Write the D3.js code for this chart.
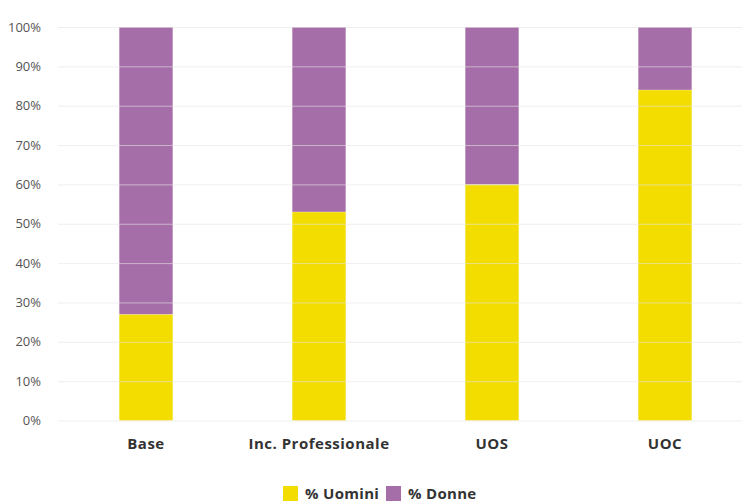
<!DOCTYPE html>
<html>
<head>
<meta charset="utf-8">
<script src="https://cdn.jsdelivr.net/npm/d3@7"></script>
<style>
    body { margin: 0; background: #fff; }
    .tick text { font-family: 'Open Sans', sans-serif; }
</style>
</head>
<body>
<div id="chart"></div>
<script>
'use strict';

// Data
const categories = ['Base', 'Inc. Professionale', 'UOS', 'UOC'];
const uomini = [27, 53, 60, 84];
const donne = [73, 47, 40, 16];
const seriesNames = ['% Uomini', '% Donne'];
const seriesColors = ['#f3dd00', '#a66ea8'];
const yTicks = [0, 10, 20, 30, 40, 50, 60, 70, 80, 90, 100];

// Configs
const svgW = 742;
const svgH = 504;
const plotLeft = 58;
const plotTop = 27;
const plotBottom = 420.5;

const svg = d3.select('#chart')
    .append('svg')
    .attr('width', svgW)
    .attr('height', svgH);

// Scales
const xScale = d3.scaleBand()
    .domain(categories)
    .range([59.5, 751.5])
    .paddingInner(0.69)
    .paddingOuter(0.345);
const yScale = d3.scaleLinear()
    .domain([0, 100])
    .range([plotBottom, plotTop]);

// Stack
const rows = categories.map((c, i) => ({cat: c, u: uomini[i], d: donne[i]}));
const stacked = d3.stack().keys(['u', 'd'])(rows);

const barsG = svg.append('g');
barsG.selectAll('.layer')
    .data(stacked)
    .join('g')
    .attr('fill', (d, i) => seriesColors[i])
    .selectAll('rect')
    .data(d => d)
    .join('rect')
    .attr('x', d => xScale(d.data.cat))
    .attr('width', xScale.bandwidth())
    .attr('y', d => yScale(d[1]))
    .attr('height', d => yScale(d[0]) - yScale(d[1]))
    .attr('stroke', 'rgba(255,255,255,0.35)')
    .attr('stroke-width', 0.6);

// Gridlines on top (light)
const yAxis = d3.axisLeft(yScale)
    .tickValues(yTicks)
    .tickFormat(d => d + '%')
    .tickSize(-(svgW - plotLeft))
    .tickPadding(17);
const yAxisG = svg.append('g')
    .attr('transform', `translate(${plotLeft},0)`)
    .call(yAxis);
yAxisG.select('.domain').remove();
yAxisG.selectAll('.tick line')
    .attr('stroke', '#e4e4e4')
    .attr('stroke-opacity', 0.6)
    .attr('stroke-width', 1);
yAxisG.selectAll('.tick text')
    .attr('fill', '#555')
    .style('font-size', '13px');

// Category labels
const xAxis = d3.axisBottom(xScale).tickSize(0).tickPadding(18);
const xAxisG = svg.append('g')
    .attr('transform', `translate(0,${plotBottom})`)
    .call(xAxis);
xAxisG.select('.domain').remove();
xAxisG.selectAll('.tick text')
    .attr('fill', '#333')
    .style('font-size', '15px')
    .style('font-weight', 'bold')
    .style('letter-spacing', '0.5px')
    .style('font-family', "'Open Sans', sans-serif");

// Legend
const legendX = [283, 386];
const legendG = svg.append('g').attr('transform', 'translate(0,486)');
const items = legendG.selectAll('.legendItem')
    .data(seriesNames)
    .join('g')
    .attr('transform', (d, i) => `translate(${legendX[i]},0)`);
items.append('rect')
    .attr('width', 15)
    .attr('height', 15)
    .attr('fill', (d, i) => seriesColors[i]);
items.append('text')
    .attr('x', 22)
    .attr('y', 13)
    .attr('fill', '#333')
    .style('font-size', '15px')
    .style('font-weight', 'bold')
    .style('letter-spacing', '0.3px')
    .style('font-family', "'Open Sans', sans-serif")
    .text(d => d);
</script>
</body>
</html>
